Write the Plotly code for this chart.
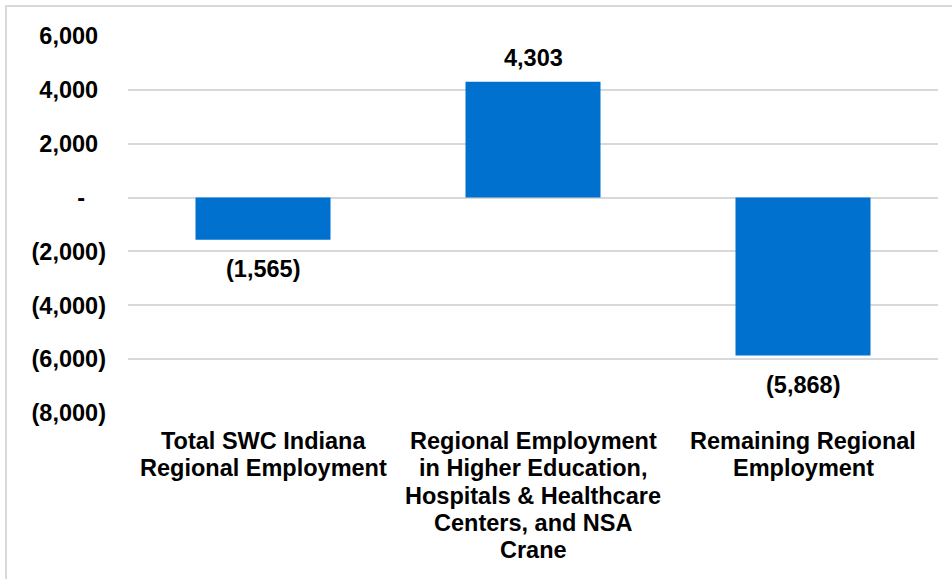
import plotly.graph_objects as go

categories = [
    "Total SWC Indiana<br>Regional Employment",
    "Regional Employment<br>in Higher Education,<br>Hospitals & Healthcare<br>Centers, and NSA<br>Crane",
    "Remaining Regional<br>Employment",
]
values = [-1565, 4303, -5868]
tick_vals = [6000, 4000, 2000, 0, -2000, -4000, -6000, -8000]

FONT = "Arial, Liberation Sans, sans-serif"
FS = 23.5
HID = '<span style="color:rgba(0,0,0,0)">{}</span>'


def fmt_tick(v):
    if v == 0:
        return "-" + HID.format("0)")
    if v < 0:
        return "({:,})".format(-v)
    return "{:,}".format(v) + HID.format(")")


def fmt_val(v):
    return "({:,})".format(-v) if v < 0 else "{:,}".format(v)


fig = go.Figure()
fig.add_trace(go.Bar(
    x=categories, y=values,
    marker=dict(color="#0071CE", line=dict(width=0)),
    hoverinfo="skip",
))

for c, v in zip(categories, values):
    fig.add_annotation(
        x=c, y=v, text="<b>" + fmt_val(v) + "</b>",
        showarrow=False, yanchor="middle",
        yshift=24 if v > 0 else -29,
        font=dict(family=FONT, size=FS, color="black"),
    )

# category labels, one annotation per line for tighter line spacing
for c in categories:
    for i, line in enumerate(c.split("<br>")):
        fig.add_annotation(
            x=c, xref="x", y=0, yref="paper", text="<b>" + line + "</b>",
            showarrow=False, yanchor="middle", xanchor="center",
            yshift=-(28 + i * 27.3),
            font=dict(family=FONT, size=FS, color="black"),
        )

fig.update_layout(
    width=952, height=579,
    margin=dict(l=128, r=14, t=36, b=166),
    paper_bgcolor="white", plot_bgcolor="white",
    bargap=0.5, showlegend=False,
    font=dict(family=FONT, size=FS, color="black"),
)
fig.update_xaxes(
    showticklabels=False,
    showgrid=False, showline=False, ticks="",
)
fig.update_yaxes(
    range=[-8000, 6000],
    tickvals=tick_vals,
    ticktext=["<b>" + fmt_tick(v) + "</b>" for v in tick_vals],
    tickfont=dict(family=FONT, size=FS, color="black"),
    showgrid=True, gridcolor="#D9D9D9", gridwidth=1.5,
    zeroline=True, zerolinecolor="#D9D9D9", zerolinewidth=1.5,
    showline=False, ticks="", ticklabelstandoff=21,
)

# outer chart border (light gray), top-left visible, extends past canvas
px0, px1, py0, py1 = 128, 938, 36, 413
def px(x):
    return (x - px0) / (px1 - px0)
def py(y):
    return (py1 - y) / (py1 - py0)

fig.add_shape(type="rect", xref="paper", yref="paper",
              x0=px(6), x1=px(1000), y0=py(6), y1=py(650),
              line=dict(color="#D9D9D9", width=2), fillcolor="rgba(0,0,0,0)",
              layer="below")

fig.write_html("out.html")
